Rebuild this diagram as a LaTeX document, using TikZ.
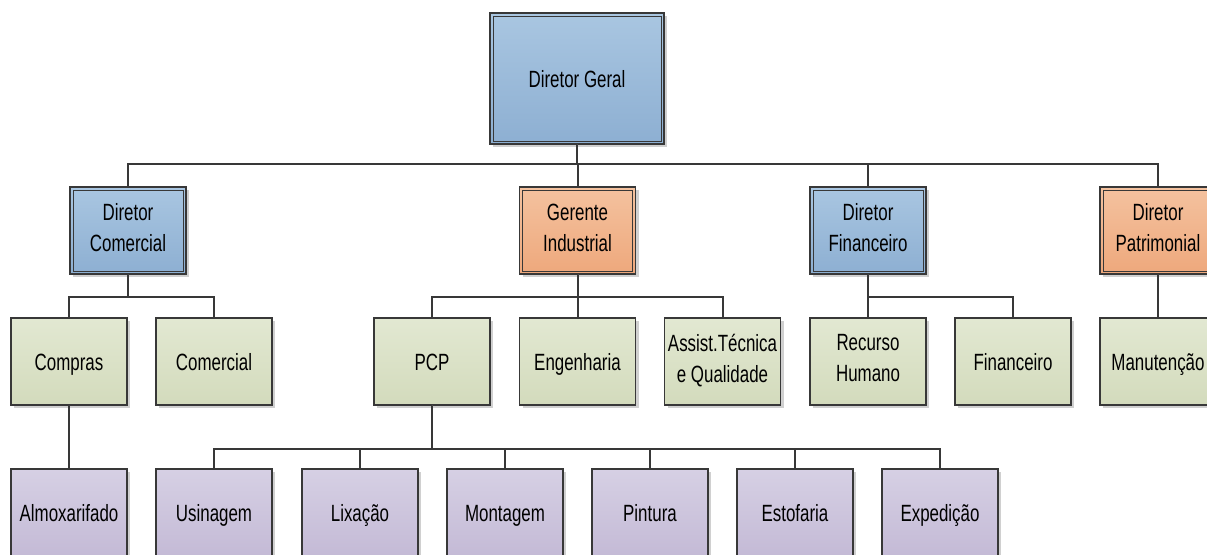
\documentclass[tikz,border=0pt]{standalone}
\usepackage{fontspec}
\setmainfont{Liberation Sans}[FakeStretch=0.72]
\usetikzlibrary{shadows}
\newcommand{\mystrut}{\rule[-6.2pt]{0pt}{31pt}}
\definecolor{lineC}{HTML}{383838}
\definecolor{shadC}{HTML}{D0D0D0}
\definecolor{bTop}{HTML}{A9C6E1}
\definecolor{bBot}{HTML}{8DAFD2}
\definecolor{oTop}{HTML}{F4C29F}
\definecolor{oBot}{HTML}{EEA87C}
\definecolor{gTop}{HTML}{E2E8D2}
\definecolor{gBot}{HTML}{D3DBBC}
\definecolor{pTop}{HTML}{D6D0E4}
\definecolor{pBot}{HTML}{C4BAD6}
\tikzset{
  box/.style={draw=lineC, line width=1.3pt, minimum width=116pt, minimum height=87pt,
    inner sep=0pt, align=center, font=\fontsize{23.5}{31}\selectfont,
    execute at begin node=\mystrut, execute at end node=\mystrut,
    drop shadow={shadow xshift=3pt, shadow yshift=-3pt, fill=shadC, opacity=1}},
  dbl/.style={path picture={\draw[lineC, line width=1pt]
     ([shift={(3pt,-3pt)}]path picture bounding box.north west) rectangle
     ([shift={(-3pt,3pt)}]path picture bounding box.south east);}},
  bluebox/.style={box, dbl, top color=bTop, bottom color=bBot},
  orangebox/.style={box, dbl, top color=oTop, bottom color=oBot},
  greenbox/.style={box, top color=gTop, bottom color=gBot},
  purplebox/.style={box, top color=pTop, bottom color=pBot},
  conn/.style={draw=lineC, line width=2pt},
  connshadow/.style={draw=shadC, line width=2pt}
}
\newcommand{\myconns}[1]{%
  \draw[#1] (dg.south) -- ++(0,19) -| (dc.north);
  \draw[#1] (dg.south) -- ++(0,19) -| (gi.north);
  \draw[#1] (dg.south) -- ++(0,19) -| (df.north);
  \draw[#1] (dg.south) -- ++(0,19) -| (dp.north);
  \draw[#1] (dc.south) -- ++(0,22) -| (compras.north);
  \draw[#1] (dc.south) -- ++(0,22) -| (comercial.north);
  \draw[#1] (gi.south) -- ++(0,22) -| (pcp.north);
  \draw[#1] (gi.south) -- ++(0,22) -| (eng.north);
  \draw[#1] (gi.south) -- ++(0,22) -| (assist.north);
  \draw[#1] (df.south) -- ++(0,22) -| (rh.north);
  \draw[#1] (df.south) -- ++(0,22) -| (fin.north);
  \draw[#1] (dp.south) -- (manut.north);
  \draw[#1] (compras.south) -- (almox.north);
  \draw[#1] (pcp.south) -- ++(0,43) -| (usin.north);
  \draw[#1] (pcp.south) -- ++(0,43) -| (lix.north);
  \draw[#1] (pcp.south) -- ++(0,43) -| (mont.north);
  \draw[#1] (pcp.south) -- ++(0,43) -| (pint.north);
  \draw[#1] (pcp.south) -- ++(0,43) -| (estof.north);
  \draw[#1] (pcp.south) -- ++(0,43) -| (exped.north);
}
\begin{document}
\begin{tikzpicture}[x=1pt, y=-1pt]
\useasboundingbox (0,0) rectangle (1207,554);
% nodes
\node[bluebox, minimum width=174pt, minimum height=131pt] (dg) at (577,78.5) {Diretor Geral};
\node[bluebox] (dc) at (128,230.5) {Diretor\\Comercial};
\node[orangebox] (gi) at (577.5,230.5) {Gerente\\Industrial};
\node[bluebox] (df) at (868,230.5) {Diretor\\Financeiro};
\node[orangebox] (dp) at (1158,230.5) {Diretor\\Patrimonial};
\node[greenbox] (compras) at (69,361.5) {Compras};
\node[greenbox] (comercial) at (214,361.5) {Comercial};
\node[greenbox] (pcp) at (432,361.5) {PCP};
\node[greenbox] (eng) at (577.5,361.5) {Engenharia};
\node[greenbox] (assist) at (722.5,361.5) {Assist.Técnica\\e Qualidade};
\node[greenbox] (rh) at (868,361.5) {Recurso\\Humano};
\node[greenbox] (fin) at (1013,361.5) {Financeiro};
\node[greenbox] (manut) at (1158,361.5) {Manutenção};
\node[purplebox] (almox) at (69,512.5) {Almoxarifado};
\node[purplebox] (usin) at (214,512.5) {Usinagem};
\node[purplebox] (lix) at (360,512.5) {Lixação};
\node[purplebox] (mont) at (505,512.5) {Montagem};
\node[purplebox] (pint) at (650,512.5) {Pintura};
\node[purplebox] (estof) at (795,512.5) {Estofaria};
\node[purplebox] (exped) at (940,512.5) {Expedição};
% connectors
\begin{scope}[shift={(2.5,2.5)}]
\myconns{connshadow}
\end{scope}
\myconns{conn}
\end{tikzpicture}
\end{document}
